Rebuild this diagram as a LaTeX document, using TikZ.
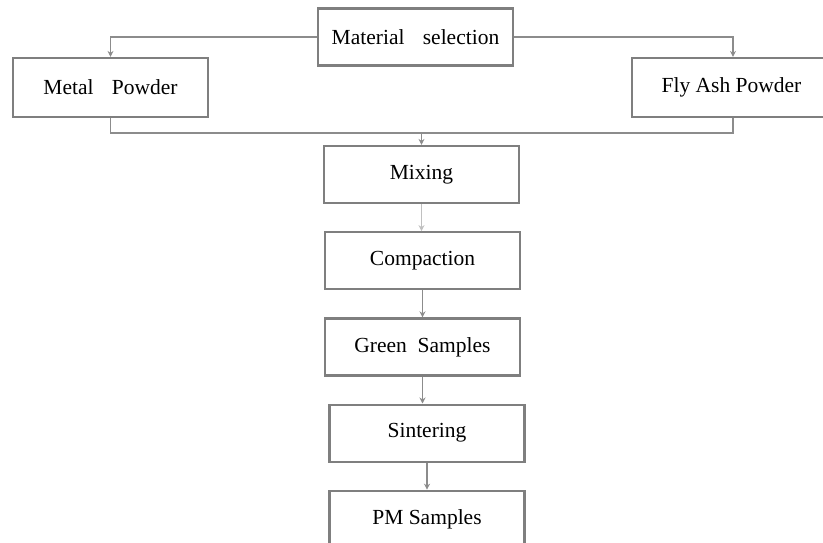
\documentclass[tikz,border=0pt]{standalone}
\usepackage{fontspec}
\setmainfont{Liberation Serif}
\usetikzlibrary{positioning,arrows.meta}
\definecolor{FlowLine}{HTML}{8C8C8C}
\definecolor{FlowBox}{HTML}{7F7F7F}

\begin{document}
\begin{tikzpicture}[x=1pt,y=-1pt,>={Stealth[length=6pt,width=6pt]},node distance=27pt]
  \tikzstyle{stage}=[draw=FlowBox,line width=2.2pt,fill=white,
    minimum width=195pt,minimum height=57pt,inner sep=0pt,
    font=\fontsize{21.5}{24}\selectfont]
  \tikzstyle{link}=[color=FlowLine,line width=1.6pt]
  \useasboundingbox (0,0) rectangle (823,542);
  \node[stage] (sel) at (415.5,37) {Material\hspace{0.6em} selection};
  \node[stage,minimum height=59pt] (metal) at (110.5,87.5) {Metal\hspace{0.6em} Powder};
  \node[stage,minimum height=59pt,minimum width=199pt] (fly) at (731.5,87.5) {Fly Ash Powder};
  \node[stage] (mix) at (421.5,174.5) {Mixing};
  \node[stage,below=of mix,xshift=1pt] (comp) {Compaction};
  \node[stage,below=of comp] (green) {Green~ Samples};
  \node[stage,below=of green,xshift=4.5pt] (sint) {Sintering};
  \node[stage,below=of sint] (pm) {PM Samples};
  \coordinate[above=12pt of mix] (join);
  \draw[link,->] (sel.west) -| (metal.north);
  \draw[link,->] (sel.east) -| ([xshift=1.5pt]fly.north);
  \draw[link] (metal.south) |- (join);
  \draw[link] ([xshift=1.5pt]fly.south) |- (join);
  \draw[link,->] (join) -- (mix.north);
  \draw[link,->,color=FlowLine!55] (mix.south) -- (mix.south |- comp.north);
  \draw[link,->] (comp.south) -- (comp.south |- green.north);
  \draw[link,->] (green.south) -- (green.south |- sint.north);
  \draw[link,->] (sint) -- (pm);
\end{tikzpicture}
\end{document}
